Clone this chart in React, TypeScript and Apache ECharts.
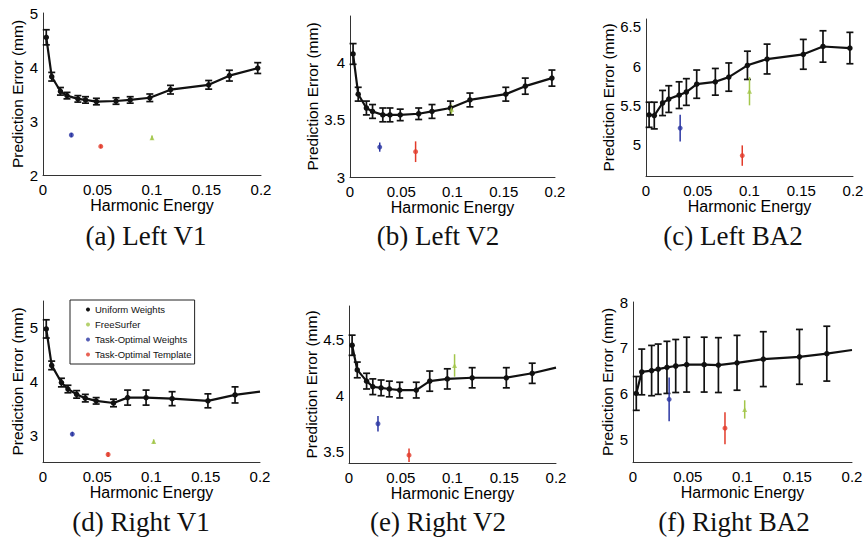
import React, { useEffect, useRef } from "react";
import * as echarts from "echarts";

// ---- Data ----
const xTop = [0.003, 0.008, 0.016, 0.022, 0.032, 0.039, 0.049, 0.067, 0.08, 0.098, 0.117, 0.152, 0.171, 0.197];
const xBottom = [0.003, 0.008, 0.017, 0.023, 0.031, 0.039, 0.049, 0.065, 0.078, 0.095, 0.119, 0.152, 0.177, 0.2];

const leftV1Mean = [4.55, 3.82, 3.55, 3.47, 3.41, 3.39, 3.36, 3.37, 3.39, 3.43, 3.58, 3.67, 3.84, 3.98];
const leftV1Err = [0.14, 0.08, 0.07, 0.06, 0.06, 0.06, 0.06, 0.06, 0.06, 0.07, 0.08, 0.08, 0.1, 0.1];
const leftV2Mean = [4.07, 3.72, 3.6, 3.57, 3.54, 3.54, 3.54, 3.55, 3.57, 3.6, 3.67, 3.72, 3.79, 3.86];
const leftV2Err = [0.09, 0.06, 0.06, 0.06, 0.06, 0.06, 0.05, 0.05, 0.06, 0.06, 0.06, 0.06, 0.07, 0.07];
const leftBA2Mean = [5.38, 5.37, 5.53, 5.58, 5.63, 5.67, 5.77, 5.8, 5.86, 6.01, 6.09, 6.15, 6.25, 6.23];
const leftBA2Err = [0.16, 0.17, 0.16, 0.17, 0.17, 0.17, 0.18, 0.17, 0.18, 0.18, 0.19, 0.19, 0.2, 0.2];
const rightV1Mean = [4.98, 4.3, 3.98, 3.86, 3.76, 3.69, 3.64, 3.6, 3.7, 3.7, 3.68, 3.64, 3.75, 3.81];
const rightV1Err = [0.17, 0.08, 0.08, 0.07, 0.07, 0.07, 0.06, 0.07, 0.14, 0.14, 0.13, 0.13, 0.15];
const rightV2Mean = [4.45, 4.23, 4.13, 4.08, 4.07, 4.06, 4.05, 4.05, 4.13, 4.15, 4.16, 4.16, 4.2, 4.25];
const rightV2Err = [0.09, 0.07, 0.07, 0.07, 0.07, 0.07, 0.07, 0.07, 0.09, 0.09, 0.09, 0.09, 0.09];
const rightBA2Mean = [6.0, 6.47, 6.5, 6.53, 6.57, 6.6, 6.63, 6.63, 6.62, 6.67, 6.75, 6.8, 6.87, 6.95];
const rightBA2Err = [0.37, 0.5, 0.55, 0.55, 0.57, 0.58, 0.6, 0.6, 0.6, 0.6, 0.6, 0.6, 0.6];

// [x, y, err] for FreeSurfer, Task-Optimal Weights, Task-Optimal Template per panel
const freeSurfer = [[0.1, 2.69, 0.04], [0.099, 3.59, 0.04], [0.1, 5.68, 0.18], [0.102, 2.88, 0.04], [0.102, 4.27, 0.1], [0.102, 5.65, 0.2]];
const taskOptWeights = [[0.026, 2.74, 0.04], [0.029, 3.26, 0.04], [0.033, 5.21, 0.17], [0.027, 3.02, 0.04], [0.028, 3.75, 0.07], [0.033, 5.87, 0.48]];
const taskOptTemplate = [[0.053, 2.53, 0.03], [0.064, 3.22, 0.09], [0.093, 4.86, 0.13], [0.06, 2.64, 0.04], [0.058, 3.47, 0.06], [0.084, 5.24, 0.35]];

const captions = ["(a) Left V1", "(b) Left V2", "(c) Left BA2", "(d) Right V1", "(e) Right V2", "(f) Right BA2"];

const panels = [
  { x: xTop, mean: leftV1Mean, err: leftV1Err, min: 2, max: 5, interval: 1, fmt: "int" },
  { x: xTop, mean: leftV2Mean, err: leftV2Err, min: 3, max: 4.4, interval: 0.1, fmt: "half" },
  { x: xTop, mean: leftBA2Mean, err: leftBA2Err, min: 4.6, max: 6.6, interval: 0.1, fmt: "half" },
  { x: xBottom, mean: rightV1Mean, err: rightV1Err, min: 2.5, max: 5.5, interval: 0.5, fmt: "int" },
  { x: xBottom, mean: rightV2Mean, err: rightV2Err, min: 3.4, max: 4.8, interval: 0.1, fmt: "half" },
  { x: xBottom, mean: rightBA2Mean, err: rightBA2Err, min: 4.5, max: 8, interval: 0.5, fmt: "int" },
];

// ---- Layout ----
const gridBoxes = [
  { left: 43, top: 13, width: 218, height: 162, nameGap: 13 },
  { left: 350, top: 16, width: 205, height: 161, nameGap: 23 },
  { left: 646, top: 19, width: 207, height: 157, nameGap: 26 },
  { left: 43, top: 301, width: 217, height: 161, nameGap: 13 },
  { left: 349, top: 306, width: 207, height: 157, nameGap: 24 },
  { left: 633, top: 302, width: 219, height: 160, nameGap: 11 },
];
const captionPos = [
  { x: 146, y: 236 }, { x: 438, y: 236 }, { x: 733, y: 236 },
  { x: 141, y: 522 }, { x: 438, y: 522 }, { x: 734, y: 522 },
];

const FONT = "'Liberation Sans', Arial, Helvetica, sans-serif";
const BLUE = "#2b36a3";
const RED = "#e23b2a";
const GREEN = "#a3c64a";

const fmtInt = (v: number) => (Math.abs(v - Math.round(v)) < 1e-6 ? String(Math.round(v)) : "");
const fmtHalf = (v: number) => (Math.abs(v * 2 - Math.round(v * 2)) < 1e-6 ? String(Math.round(v * 2) / 2) : "");

function errorBarSeries(idx: number, data: number[][], color: string, cap: number, width: number) {
  return {
    type: "custom",
    xAxisIndex: idx,
    yAxisIndex: idx,
    silent: true,
    z: 3,
    data,
    encode: { x: 0, y: [1, 2] },
    renderItem: (params: any, api: any) => {
      const x = api.value(0);
      const lo = api.value(1);
      const hi = api.value(2);
      const pt = api.coord([x, hi]);
      const pb = api.coord([x, lo]);
      const st = { stroke: color, lineWidth: width };
      const children: any[] = [
        { type: "line", shape: { x1: pt[0], y1: pt[1], x2: pb[0], y2: pb[1] }, style: st },
      ];
      if (cap > 0) {
        children.push({ type: "line", shape: { x1: pt[0] - cap, y1: pt[1], x2: pt[0] + cap, y2: pt[1] }, style: st });
        children.push({ type: "line", shape: { x1: pb[0] - cap, y1: pb[1], x2: pb[0] + cap, y2: pb[1] }, style: st });
      }
      return { type: "group", children };
    },
  };
}

export default function App() {
  const ref = useRef<HTMLDivElement>(null);
  useEffect(() => {
    document.body.style.margin = "0";
    if (!ref.current) return;
    const chart = echarts.init(ref.current, undefined, { renderer: "svg" });

    const grid = gridBoxes.map((g) => ({ left: g.left, top: g.top, width: g.width, height: g.height }));
    const xAxis = panels.map((p, i) => ({
      type: "value",
      gridIndex: i,
      min: 0,
      max: 0.2,
      interval: 0.05,
      name: "Harmonic Energy",
      nameLocation: "middle",
      nameGap: 20,
      nameTextStyle: { fontFamily: FONT, fontSize: 16, color: "#000", verticalAlign: "top" },
      axisLine: { show: true, onZero: false, lineStyle: { color: "#333", width: 1 } },
      axisTick: { show: false },
      splitLine: { show: false },
      axisLabel: {
        fontFamily: FONT,
        fontSize: 15,
        color: "#000",
        margin: 7,
        formatter: (v: number) => String(Math.round(v * 100) / 100),
      },
    }));
    const yAxis = panels.map((p, i) => ({
      type: "value",
      gridIndex: i,
      min: p.min,
      max: p.max,
      interval: p.interval,
      name: "Prediction Error (mm)",
      nameLocation: "middle",
      nameGap: gridBoxes[i].nameGap,
      nameTextStyle: { fontFamily: FONT, fontSize: 15.5, color: "#000" },
      axisLine: { show: true, onZero: false, lineStyle: { color: "#333", width: 1 } },
      axisTick: { show: false },
      splitLine: { show: false },
      axisLabel: {
        fontFamily: FONT,
        fontSize: 15,
        color: "#000",
        margin: 5,
        formatter: p.fmt === "int" ? fmtInt : fmtHalf,
      },
    }));

    const series: any[] = [];
    panels.forEach((p, i) => {
      const lineData = p.x.map((xv, k) => ({
        value: [xv, p.mean[k]],
        symbolSize: k < p.err.length ? 5.5 : 0,
      }));
      const barData = p.err.map((e, k) => [p.x[k], p.mean[k] - e, p.mean[k] + e]);
      series.push(errorBarSeries(i, barData, "#111", 3.5, 1.7));
      series.push({
        type: "line",
        name: "Uniform Weights",
        xAxisIndex: i,
        yAxisIndex: i,
        data: lineData,
        symbol: "circle",
        showSymbol: true,
        lineStyle: { color: "#111", width: 2.2 },
        itemStyle: { color: "#111" },
        z: 4,
      });
      const groups: [string, number[][], string, string, number][] = [
        ["FreeSurfer", freeSurfer, GREEN, "triangle", 5],
        ["Task-Optimal Weights", taskOptWeights, BLUE, "circle", 5],
        ["Task-Optimal Template", taskOptTemplate, RED, "circle", 5],
      ];
      groups.forEach(([name, arr, color, sym, size]) => {
        const d = arr[i];
        series.push(errorBarSeries(i, [[d[0], d[1] - d[2], d[1] + d[2]]], color, 0, 1.5));
        series.push({
          type: "scatter",
          name,
          xAxisIndex: i,
          yAxisIndex: i,
          data: [[d[0], d[1]]],
          symbol: sym,
          symbolSize: size,
          itemStyle: { color },
          z: 5,
        });
      });
    });

    const graphic = captions.map((c, i) => ({
      type: "text",
      x: captionPos[i].x,
      y: captionPos[i].y,
      style: {
        text: c,
        fontFamily: "'Liberation Serif', 'Times New Roman', serif",
        fontSize: 27,
        fill: "#111",
        textAlign: "center",
        textVerticalAlign: "middle",
      },
    }));

    chart.setOption({
      animation: false,
      backgroundColor: "#fff",
      grid,
      xAxis,
      yAxis,
      series,
      graphic,
      legend: {
        left: 70,
        top: 300,
        orient: "vertical",
        selectedMode: false,
        data: [
          { name: "Uniform Weights", icon: "circle" },
          { name: "FreeSurfer", icon: "circle" },
          { name: "Task-Optimal Weights", icon: "circle" },
          { name: "Task-Optimal Template", icon: "circle" },
        ],
        itemWidth: 4,
        itemHeight: 4,
        itemGap: 4,
        padding: [4, 3, 4, 16],
        borderColor: "#222",
        borderWidth: 1,
        backgroundColor: "#fff",
        textStyle: { fontFamily: FONT, fontSize: 9.5, color: "#111", lineHeight: 11 },
      },
    });
    return () => chart.dispose();
  }, []);
  return <div ref={ref} style={{ width: 868, height: 537 }} />;
}
